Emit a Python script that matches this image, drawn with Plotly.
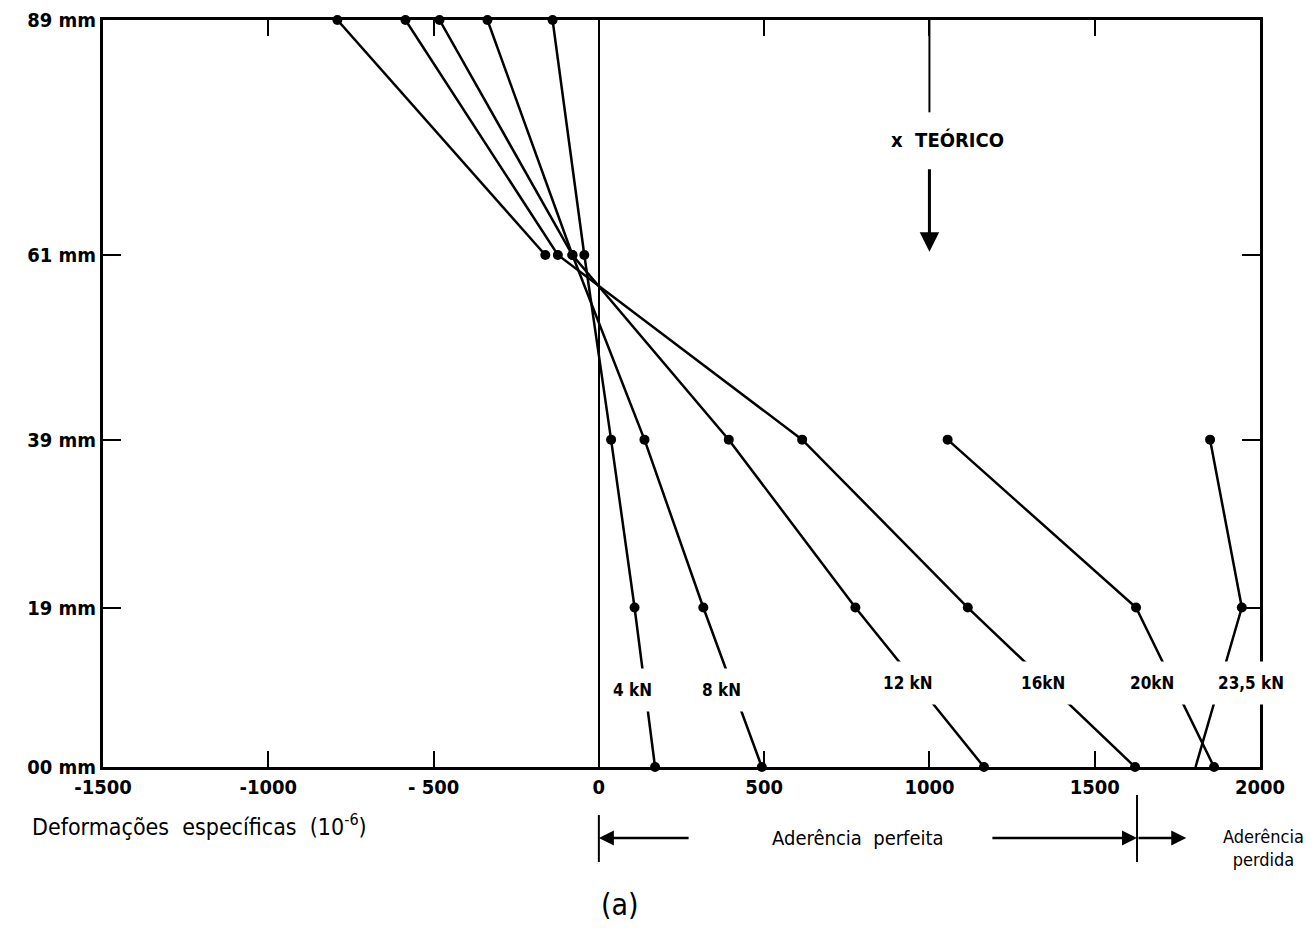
import plotly.graph_objects as go

# ---- data (strain in 1e-6, heights in mm) ----
heights = [89, 61, 39, 19, 0]
load_4kN = [-140, -44, 37, 108, 170]
load_8kN = [-337, -80, 138, 316, 493]
load_12kN = [-482, -80, 393, 776, 1165]
load_16kN = [-585, -124, 615, 1116, 1622]
heights_20_top = [89, 61]
load_20kN_top = [-791, -162]
heights_bottom = [39, 19, 0]
load_20kN_bot = [1055, 1625, 1861]
load_235kN = [1849, 1945, 1805]
n_marked_235 = 2  # the last 23,5 kN point has no dot

x_ticks = [-1500, -1000, -500, 0, 500, 1000, 1500, 2000]
x_ticktext = ["-1500", "-1000", "- 500", "0", "500", "1000", "1500", "2000"]
y_ticks = [89, 61, 39, 19, 0]
y_ticktext = ["89 mm", "61 mm", "39 mm", "19 mm", "00 mm"]

labels = ["4 kN", "8 kN", "12 kN", "16kN", "20kN", "23,5 kN"]
label_x = [102, 371, 935, 1345, 1672, 1972]
label_y = [9.2, 9.2, 10.0, 10.0, 10.0, 10.0]

bond_limit = 1628  # limit of perfect bond

FONT_B = "DejaVu Sans Condensed, DejaVu Sans, sans-serif"

fig = go.Figure()

def add_series(xs, ys, markers=True):
    fig.add_trace(go.Scatter(
        x=xs, y=ys, mode="lines+markers" if markers else "lines",
        line=dict(color="black", width=2.5),
        marker=dict(color="black", size=10),
        showlegend=False, cliponaxis=False, hoverinfo="skip"))

add_series(load_4kN, heights)
add_series(load_8kN, heights)
add_series(load_12kN, heights)
add_series(load_16kN, heights)
add_series(load_20kN_top, heights_20_top)
add_series(load_20kN_bot, heights_bottom)
add_series(load_235kN, heights_bottom, markers=False)
fig.add_trace(go.Scatter(
    x=load_235kN[:n_marked_235], y=heights_bottom[:n_marked_235], mode="markers",
    marker=dict(color="black", size=10), showlegend=False,
    cliponaxis=False, hoverinfo="skip"))

annotations = []
for t, lx, ly in zip(labels, label_x, label_y):
    annotations.append(dict(
        x=lx, y=ly, xref="x", yref="y", text="<b>%s</b>" % t,
        xanchor="center", yanchor="middle",
        showarrow=False, bgcolor="white", borderpad=11,
        font=dict(family=FONT_B, size=17, color="black")))

# x teorico
annotations.append(dict(
    x=1055, y=74.7, xref="x", yref="y", text="<b>x  TEÓRICO</b>",
    xanchor="center", yanchor="middle",
    showarrow=False, font=dict(family=FONT_B, size=20, color="black")))
annotations.append(dict(
    x=1000, y=61.4, xref="x", yref="y", ax=1000, ay=71.4,
    axref="x", ayref="y", text="", showarrow=True,
    arrowhead=2, arrowsize=1.3, arrowwidth=3, arrowcolor="black"))

# bottom texts
annotations.append(dict(
    x=0.0838, y=-0.0776, xref="paper", yref="paper",
    xanchor="center", yanchor="middle",
    text="Deformações  específicas  (10<sup>-6</sup>)", showarrow=False,
    font=dict(family=FONT_B, size=23, color="black")))
annotations.append(dict(
    x=0, y=-0.095, xref="x", yref="paper", ax=276, ay=0,
    axref="x", ayref="pixel", text="", showarrow=True,
    arrowhead=2, arrowsize=1.2, arrowwidth=2.5, arrowcolor="black"))
annotations.append(dict(
    x=785, y=-0.095, xref="x", yref="paper", text="Aderência  perfeita",
    xanchor="center", yanchor="middle",
    showarrow=False, font=dict(family=FONT_B, size=20, color="black")))
annotations.append(dict(
    x=bond_limit, y=-0.095, xref="x", yref="paper", ax=1186, ay=0,
    axref="x", ayref="pixel", text="", showarrow=True,
    arrowhead=2, arrowsize=1.2, arrowwidth=2.5, arrowcolor="black"))
annotations.append(dict(
    x=1777, y=-0.095, xref="x", yref="paper", ax=bond_limit, ay=0,
    axref="x", ayref="pixel", text="", showarrow=True,
    arrowhead=2, arrowsize=1.2, arrowwidth=2.5, arrowcolor="black"))
annotations.append(dict(
    x=1.0398, y=-0.1084, xref="paper", yref="paper",
    xanchor="right", yanchor="middle", align="center",
    text="Aderência<br>perdida", showarrow=False,
    font=dict(family=FONT_B, size=18, color="black")))
annotations.append(dict(
    x=0.4468, y=-0.1847, xref="paper", yref="paper", text="(a)",
    xanchor="center", yanchor="middle",
    showarrow=False, font=dict(family=FONT_B, size=30, color="black")))

shapes = [
    dict(type="line", xref="x", yref="y", x0=1000, x1=1000, y0=89, y1=78,
         line=dict(color="black", width=2)),
    dict(type="line", xref="x", yref="paper", x0=0, x1=0, y0=-0.0643, y1=-0.1272,
         line=dict(color="black", width=2)),
    dict(type="line", xref="x", yref="paper", x0=bond_limit, x1=bond_limit,
         y0=-0.0375, y1=-0.1272, line=dict(color="black", width=2)),
]

fig.update_layout(
    width=1314, height=948,
    margin=dict(l=95, r=62, t=12, b=189, autoexpand=False),
    paper_bgcolor="white", plot_bgcolor="white",
    annotations=annotations, shapes=shapes,
    xaxis=dict(range=[-1500, 2000], tickvals=x_ticks,
               ticktext=["<b>%s</b>" % t for t in x_ticktext],
               automargin=False,
               showgrid=False, zeroline=True, zerolinecolor="black",
               zerolinewidth=2, showline=True, linecolor="black", linewidth=3,
               mirror="ticks", ticks="inside", ticklen=16, tickwidth=2,
               tickcolor="black",
               tickfont=dict(family=FONT_B, size=20, color="black")),
    yaxis=dict(range=[0, 89], tickvals=y_ticks,
               ticktext=["<b>%s</b>" % t for t in y_ticktext],
               automargin=False,
               showgrid=False, zeroline=False, showline=True,
               linecolor="black", linewidth=3, mirror="ticks",
               ticks="inside", ticklen=18, tickwidth=2, tickcolor="black",
               tickfont=dict(family=FONT_B, size=20, color="black")),
)

fig.write_html("out.html")
